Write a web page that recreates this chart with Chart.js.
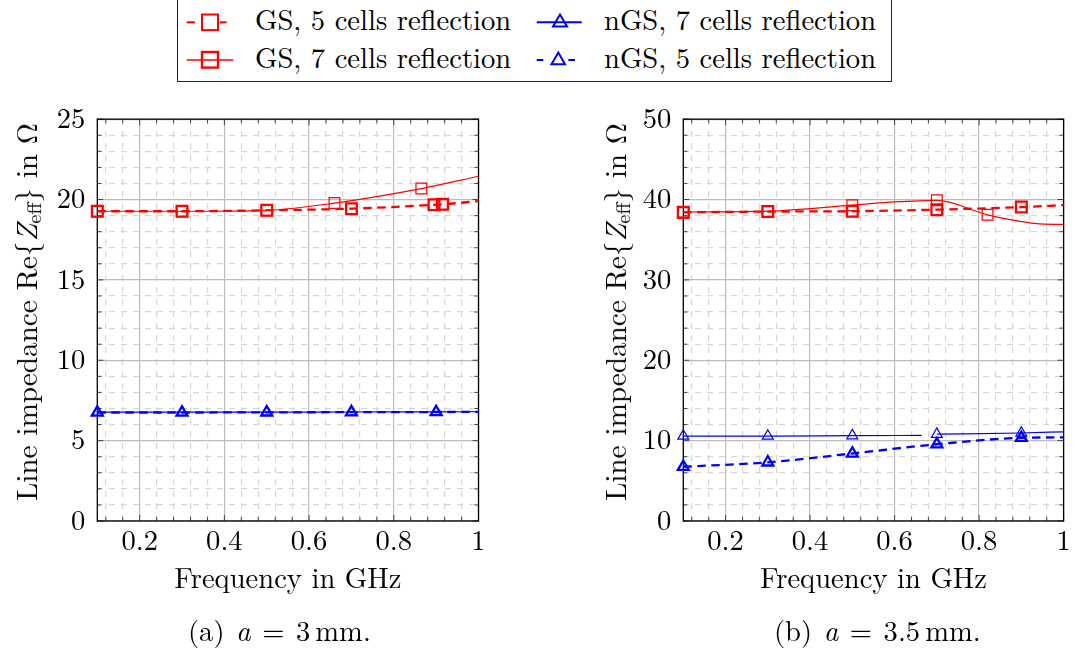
<!DOCTYPE html>
<html><head><meta charset="utf-8">
<script src="https://cdn.jsdelivr.net/npm/chart.js@4.4.0/dist/chart.umd.min.js"></script>
<style>
html,body{margin:0;padding:0;background:#fff;width:1075px;height:657px;overflow:hidden;position:relative;font-family:"Latin Modern Roman","Liberation Serif",serif;color:#000;}
canvas{position:absolute;}
#legendbox{position:absolute;left:177px;top:-2px;width:715px;height:84px;border:1.3px solid #222;box-sizing:border-box;}
.lt{position:absolute;font-size:28.6px;line-height:30px;white-space:nowrap;}
.ytitle{position:absolute;font-size:29.2px;line-height:34px;white-space:nowrap;transform:translate(-50%,-50%) rotate(-90deg);}
.ytitle sub{font-size:0.7em;vertical-align:-0.22em;line-height:0;}
.cap{position:absolute;font-size:28.6px;line-height:30px;white-space:nowrap;word-spacing:2px;}
.cap .ts{display:inline-block;width:5px;}
</style></head>
<body>
<div id="legendbox"></div>
<svg style="position:absolute;left:0;top:0" width="1075" height="90">
  <g fill="none" stroke="#ff0000">
    <line x1="186.7" y1="22.3" x2="195" y2="22.3" stroke-width="2"/>
    <line x1="220" y1="22.3" x2="226.7" y2="22.3" stroke-width="2"/>
    <rect x="202" y="14.5" width="16" height="15.6" stroke-width="2"/>
    <line x1="186.7" y1="60" x2="233.3" y2="60" stroke-width="1.6"/>
    <rect x="202" y="52" width="16" height="15.6" stroke-width="2.4"/>
  </g>
  <g fill="none" stroke="#0000ff">
    <line x1="536.7" y1="22.3" x2="581.7" y2="22.3" stroke-width="2"/>
    <polygon points="560,14.5 553,26.5 567,26.5" stroke-width="2"/>
    <line x1="536.7" y1="60" x2="543.3" y2="60" stroke-width="2"/>
    <line x1="568.3" y1="60" x2="575" y2="60" stroke-width="2"/>
    <polygon points="558.3,52.5 551.5,64.3 565,64.3" stroke-width="2"/>
  </g>
</svg>
<div class="lt" style="left:255px;top:3px">GS, 5 cells reflection</div>
<div class="lt" style="left:255px;top:40.5px">GS, 7 cells reflection</div>
<div class="lt" style="left:604px;top:3px">nGS, 7 cells reflection</div>
<div class="lt" style="left:604px;top:40.5px">nGS, 5 cells reflection</div>

<canvas id="ca" width="537" height="520" style="left:0;top:90px"></canvas>
<canvas id="cb" width="489" height="520" style="left:586px;top:90px"></canvas>

<div class="ytitle" style="left:25px;top:311.5px">Line impedance Re{<i>Z</i><sub>eff</sub>} in Ω</div>
<div class="ytitle" style="left:614px;top:311.5px">Line impedance Re{<i>Z</i><sub>eff</sub>} in Ω</div>

<div class="cap" style="left:188px;top:614px">(a) <i>a</i> = 3<span class="ts"></span>mm.</div>
<div class="cap" style="left:774px;top:614px">(b) <i>a</i> = 3.5<span class="ts"></span>mm.</div>

<script>
// ---------- tick arrays ----------
const xMajor = [0.2, 0.4, 0.6, 0.8, 1];
const xMinor = [0.12, 0.16, 0.24, 0.28, 0.32, 0.36, 0.44, 0.48, 0.52, 0.56, 0.64, 0.68, 0.72, 0.76, 0.84, 0.88, 0.92, 0.96];
const yMajorA = [0, 5, 10, 15, 20, 25];
const yMinorA = [1, 2, 3, 4, 6, 7, 8, 9, 11, 12, 13, 14, 16, 17, 18, 19, 21, 22, 23, 24];
const yMajorB = [0, 10, 20, 30, 40, 50];
const yMinorB = [2, 4, 6, 8, 12, 14, 16, 18, 22, 24, 26, 28, 32, 34, 36, 38, 42, 44, 46, 48];

// ---------- plot (a): a = 3 mm ----------
const gs5A_x = [0.1, 0.3, 0.5, 0.7, 0.895, 0.915, 1.0];
const gs5A_y = [19.27, 19.27, 19.33, 19.43, 19.67, 19.70, 19.9];
const gs5A_mark = [1, 1, 1, 1, 1, 1, 0];
const gs7A_x = [0.1, 0.3, 0.5, 0.66, 0.865, 1.0];
const gs7A_y = [19.27, 19.27, 19.33, 19.78, 20.68, 21.45];
const gs7A_mark = [1, 1, 1, 1, 1, 0];
const ngs7A_x = [0.1, 0.3, 0.5, 0.7, 0.9, 1.0];
const ngs7A_y = [6.77, 6.77, 6.77, 6.78, 6.79, 6.8];
const ngs7A_mark = [1, 1, 1, 1, 1, 0];
const ngs5A_x = [0.1, 0.3, 0.5, 0.7, 0.9, 1.0];
const ngs5A_y = [6.75, 6.75, 6.76, 6.77, 6.78, 6.79];
const ngs5A_mark = [1, 1, 1, 1, 1, 0];

// ---------- plot (b): a = 3.5 mm ----------
const gs5B_x = [0.1, 0.3, 0.5, 0.7, 0.9, 1.0];
const gs5B_y = [38.4, 38.5, 38.55, 38.74, 39.06, 39.3];
const gs5B_mark = [1, 1, 1, 1, 1, 0];
const gs7B_x = [0.1, 0.3, 0.5, 0.6, 0.7, 0.82, 0.873, 0.936, 1.0];
const gs7B_y = [38.45, 38.55, 39.3, 39.7, 39.9, 38.1, 37.5, 37.0, 36.9];
const gs7B_mark = [1, 1, 1, 0, 1, 1, 0, 0, 0];
const ngs7B_x = [0.1, 0.3, 0.5, 0.664, 0.68, 0.7, 0.9, 1.0];
const ngs7B_y = [10.57, 10.57, 10.62, 10.65, null, 10.8, 10.95, 11.1];
const ngs7B_mark = [1, 1, 1, 0, 0, 1, 1, 0];
const ngs5B_x = [0.1, 0.3, 0.5, 0.7, 0.9, 1.0];
const ngs5B_y = [6.75, 7.3, 8.4, 9.55, 10.35, 10.4];
const ngs5B_mark = [1, 1, 1, 1, 1, 0];

const RED = '#ff0000', BLUE = '#0000ff';
const FONT = '"Latin Modern Roman", "Liberation Serif", serif';

function pts(xs, ys) { return xs.map((x, i) => ({x: x, y: ys[i]})); }

function series(label, xs, ys, marks, color, thick, style) {
  const r = style === 'rect' ? 7.6 : 6.3;
  return {
    label: label,
    data: pts(xs, ys),
    borderColor: color,
    backgroundColor: 'transparent',
    borderWidth: thick ? 2.3 : 1.2,
    borderDash: thick ? [8.5, 5.5] : [],
    cubicInterpolationMode: 'monotone',
    spanGaps: false,
    pointStyle: style,
    pointRadius: ctx => marks[ctx.dataIndex] ? r : 0,
    pointBorderWidth: thick ? 2.3 : 1.2,
    pointBorderColor: color,
    pointBackgroundColor: 'transparent',
    clip: false
  };
}

const framePlugin = {
  id: 'frame',
  beforeDatasetsDraw(chart) {
    const {ctx, chartArea: a, scales} = chart;
    const xs = scales.x, ys = scales.y;
    const xMaj = xs.ticks.map(t => t.value), xMin = scales.xMinor.ticks.map(t => t.value);
    const yMaj = ys.ticks.map(t => t.value), yMin = scales.yMinor.ticks.map(t => t.value);
    ctx.save();
    ctx.strokeStyle = '#444';
    ctx.lineWidth = 1;
    ctx.beginPath();
    const tx = (vals, len) => vals.forEach(v => {
      const p = xs.getPixelForValue(v);
      ctx.moveTo(p, a.bottom); ctx.lineTo(p, a.bottom - len);
      ctx.moveTo(p, a.top); ctx.lineTo(p, a.top + len);
    });
    const ty = (vals, len) => vals.forEach(v => {
      const p = ys.getPixelForValue(v);
      ctx.moveTo(a.left, p); ctx.lineTo(a.left + len, p);
      ctx.moveTo(a.right, p); ctx.lineTo(a.right - len, p);
    });
    tx(xMaj, 6); tx(xMin, 4); ty(yMaj, 6); ty(yMin, 4);
    ctx.stroke();
    ctx.strokeStyle = '#000';
    ctx.lineWidth = 1.3;
    ctx.strokeRect(a.left, a.top, a.right - a.left, a.bottom - a.top);
    ctx.restore();
  }
};

function makeChart(id, datasets, yMax, yMajor, yMinor, padRight) {
  return new Chart(document.getElementById(id), {
    type: 'line',
    data: {datasets: datasets},
    plugins: [framePlugin],
    options: {
      responsive: false,
      animation: false,
      events: [],
      layout: {padding: {top: 21, right: padRight, left: 0, bottom: 0}},
      plugins: {legend: {display: false}, tooltip: {enabled: false}},
      scales: {
        x: {
          type: 'linear', min: 0.1, max: 1, position: 'bottom',
          afterBuildTicks: s => { s.ticks = xMajor.map(v => ({value: v})); },
          afterFit: s => { s.height = 89; },
          ticks: {font: {family: FONT, size: 28.6}, color: '#000', padding: 3, maxRotation: 0, autoSkip: false,
                  callback: v => String(v)},
          grid: {color: '#bdbdbd', lineWidth: 1.2, drawTicks: false},
          border: {display: false},
          title: {display: true, text: 'Frequency in GHz', color: '#000',
                  font: {family: FONT, size: 28.6}, padding: {top: 0, bottom: 14}}
        },
        xMinor: {
          type: 'linear', min: 0.1, max: 1, position: 'bottom',
          afterBuildTicks: s => { s.ticks = xMinor.map(v => ({value: v})); },
          ticks: {display: false},
          grid: {color: '#d6d6d6', lineWidth: 1.2, drawTicks: false, z: -1},
          border: {display: false, dash: [6, 6]}
        },
        y: {
          type: 'linear', min: 0, max: yMax, position: 'left',
          afterBuildTicks: s => { s.ticks = yMajor.map(v => ({value: v})); },
          afterFit: s => { s.width = 97.3; },
          ticks: {font: {family: FONT, size: 28.6}, color: '#000', padding: 12, autoSkip: false,
                  callback: v => String(v)},
          grid: {color: '#bdbdbd', lineWidth: 1.2, drawTicks: false},
          border: {display: false}
        },
        yMinor: {
          type: 'linear', min: 0, max: yMax, position: 'left',
          afterBuildTicks: s => { s.ticks = yMinor.map(v => ({value: v})); },
          ticks: {display: false},
          grid: {color: '#d6d6d6', lineWidth: 1.2, drawTicks: false, z: -1},
          border: {display: false, dash: [6, 6]}
        }
      }
    }
  });
}

makeChart('ca', [
  series('GS, 5 cells reflection', gs5A_x, gs5A_y, gs5A_mark, RED, true, 'rect'),
  series('GS, 7 cells reflection', gs7A_x, gs7A_y, gs7A_mark, RED, false, 'rect'),
  series('nGS, 7 cells reflection', ngs7A_x, ngs7A_y, ngs7A_mark, BLUE, false, 'triangle'),
  series('nGS, 5 cells reflection', ngs5A_x, ngs5A_y, ngs5A_mark, BLUE, true, 'triangle')
], 25, yMajorA, yMinorA, 58.5);

makeChart('cb', [
  series('GS, 5 cells reflection', gs5B_x, gs5B_y, gs5B_mark, RED, true, 'rect'),
  series('GS, 7 cells reflection', gs7B_x, gs7B_y, gs7B_mark, RED, false, 'rect'),
  series('nGS, 7 cells reflection', ngs7B_x, ngs7B_y, ngs7B_mark, BLUE, false, 'triangle'),
  series('nGS, 5 cells reflection', ngs5B_x, ngs5B_y, ngs5B_mark, BLUE, true, 'triangle')
], 50, yMajorB, yMinorB, 11.4);
</script>
</body></html>
